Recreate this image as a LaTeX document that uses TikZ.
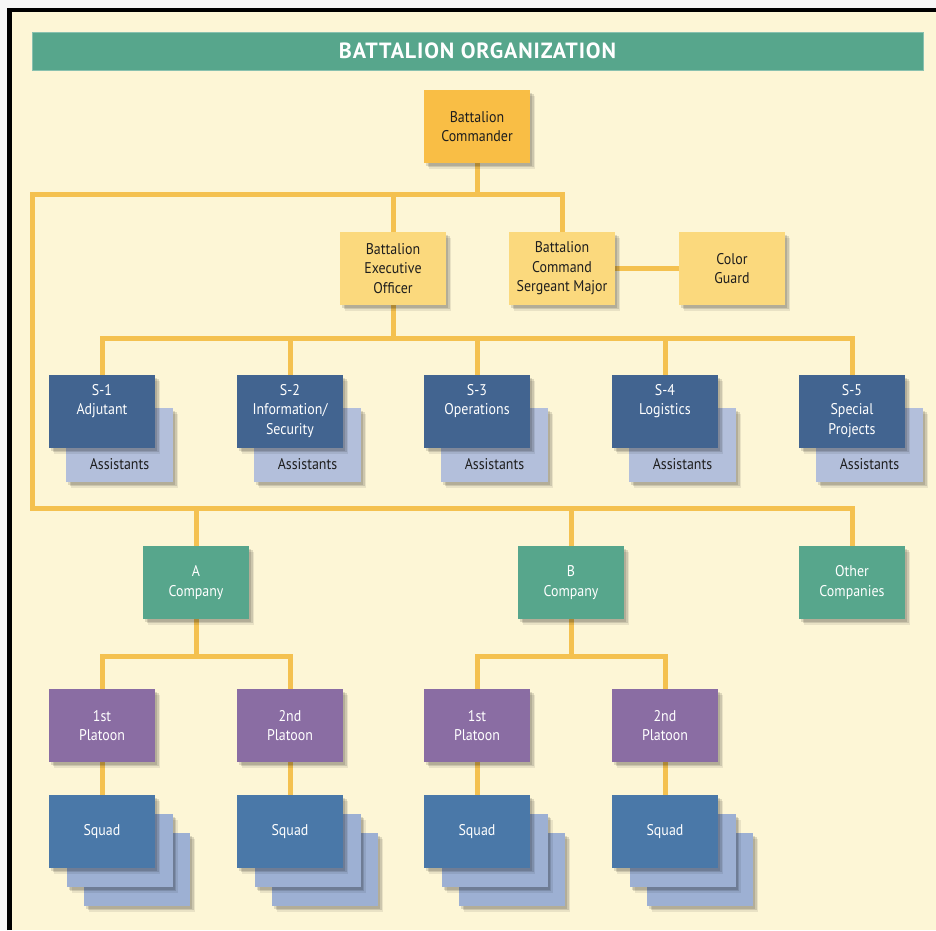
\documentclass[tikz,border=0pt]{standalone}
\usepackage{fontspec}
\setmainfont{PT Sans}[FakeStretch=0.9]
\newfontfamily\titlefont{PT Sans}[LetterSpace=4]
\usetikzlibrary{shadows}
\pgfdeclarelayer{bg}
\pgfsetlayers{bg,main}
\definecolor{cream}{HTML}{FDF6D6}
\definecolor{teal}{HTML}{57A68C}
\definecolor{cmdyel}{HTML}{F9BE45}
\definecolor{lightyel}{HTML}{FBD97D}
\definecolor{linecol}{HTML}{F4C150}
\definecolor{sblue}{HTML}{426490}
\definecolor{assist}{HTML}{B3BFDB}
\definecolor{purp}{HTML}{8A6DA3}
\definecolor{squad}{HTML}{4A78A8}
\definecolor{squadback}{HTML}{9DB0D3}
\definecolor{darktext}{HTML}{1E1E1E}
\newcommand{\toptext}[1]{\parbox[c][55pt][t]{100pt}{\centering #1}}
\newcommand{\bottext}[1]{\parbox[c][50pt][b]{100pt}{\centering #1}}
\tikzset{
  box/.style={rectangle, inner sep=0pt, outer sep=0pt, minimum width=106pt, minimum height=73pt,
    align=center, font=\fontsize{15.5}{19.5}\selectfont,
    drop shadow={shadow xshift=5pt, shadow yshift=-6pt, fill=black, opacity=0.08},
    drop shadow={shadow xshift=3.5pt, shadow yshift=-4pt, fill=black, opacity=0.12},
    drop shadow={shadow xshift=2pt, shadow yshift=-2.5pt, fill=black, opacity=0.12}},
  yelbox/.style={box, fill=lightyel, text=darktext},
  cmdbox/.style={box, fill=cmdyel, text=darktext},
  sbox/.style={box, fill=sblue, text=white},
  asbox/.style={box, minimum width=107pt, minimum height=74pt, fill=assist, text=darktext},
  cobox/.style={box, fill=teal, text=white},
  plbox/.style={box, fill=purp, text=white},
  sqbox/.style={box, fill=squad, text=white},
  sqback/.style={box, fill=squadback},
  conn/.style={draw=linecol, line width=5pt, line join=miter}
}
\begin{document}
\begin{tikzpicture}[x=1pt, y=-1pt]
\useasboundingbox (0,0) rectangle (936,930);
\begin{pgfonlayer}{bg}
  \fill[white!97!black] (0,0) rectangle (936,930);
  \fill[cream] (9.5,10) rectangle (936,930);
  \draw[black, line width=4.5pt] (9.5,930) -- (9.5,10) -- (936,10);
\end{pgfonlayer}
% title
\node[fill=teal, draw=teal!70!white, line width=0.8pt, minimum width=891pt, minimum height=38pt, inner sep=0pt,
  text=white, font=\titlefont\bfseries\fontsize{22}{24}\selectfont] (title) at (477.5,51) {BATTALION ORGANIZATION};
% top level
\node[cmdbox] (cmd) at (477,126.5) {Battalion\\Commander};
\node[yelbox] (xo) at (393,268.5) {Battalion\\Executive\\Officer};
\node[yelbox] (csm) at (562,268.5) {Battalion\\Command\\Sergeant Major};
\node[yelbox] (cg) at (732,268.5) {Color\\Guard};
% staff sections
\foreach \i/\x/\t in {1/102/{S-1\\Adjutant}, 2/290/{S-2\\Information/\\Security}, 3/477/{S-3\\Operations}, 4/665/{S-4\\Logistics}, 5/852/{S-5\\Special\\Projects}}{
  \node[asbox] (a\i) at (\x+17.5,445) {\bottext{Assistants}};
  \node[sbox] (s\i) at (\x,411.5) {\toptext{\t}};
}
% companies
\node[cobox] (ca) at (196,582.5) {A\\Company};
\node[cobox] (cb) at (571,582.5) {B\\Company};
\node[cobox] (co) at (852,582.5) {Other\\Companies};
% platoons
\node[plbox] (p1) at (102,725.5) {1st\\Platoon};
\node[plbox] (p2) at (290,725.5) {2nd\\Platoon};
\node[plbox] (p3) at (477,725.5) {1st\\Platoon};
\node[plbox] (p4) at (665,725.5) {2nd\\Platoon};
% squads
\foreach \i/\x in {1/102, 2/290, 3/477, 4/665}{
  \node[sqback] (qb\i) at (\x+35,869.5) {};
  \node[sqback] (qm\i) at (\x+17.5,850.5) {};
  \node[sqbox] (q\i) at (\x,831.5) {Squad};
}
% bus coordinates
\coordinate (b1) at (0,194.5);
\coordinate (b2) at (0,338);
\coordinate (b3) at (0,508);
\coordinate (b4) at (0,656.5);
\coordinate (lx) at (32.5,0);
\begin{pgfonlayer}{bg}
  \draw[conn] (cmd.south) -- (cmd.south |- b1);
  \draw[conn] (csm.north) |- (lx |- b1) -- (lx |- b3) -| (co.north);
  \draw[conn] (xo.north |- b1) -- (xo.north);
  \draw[conn] (csm.east) -- (cg.west);
  \draw[conn] (ca.north |- b3) -- (ca.north);
  \draw[conn] (cb.north |- b3) -- (cb.north);
  \draw[conn] (xo.south) -- (xo.south |- b2);
  \draw[conn] (s1.north) |- (s5.north |- b2) -- (s5.north);
  \draw[conn] (s2.north |- b2) -- (s2.north);
  \draw[conn] (s3.north |- b2) -- (s3.north);
  \draw[conn] (s4.north |- b2) -- (s4.north);
  \draw[conn] (ca.south) -- (ca.south |- b4);
  \draw[conn] (p1.north) |- (p2.north |- b4) -- (p2.north);
  \draw[conn] (cb.south) -- (cb.south |- b4);
  \draw[conn] (p3.north) |- (p4.north |- b4) -- (p4.north);
  \draw[conn] (p1.south) -- (q1.north);
  \draw[conn] (p2.south) -- (q2.north);
  \draw[conn] (p3.south) -- (q3.north);
  \draw[conn] (p4.south) -- (q4.north);
\end{pgfonlayer}
\end{tikzpicture}
\end{document}
